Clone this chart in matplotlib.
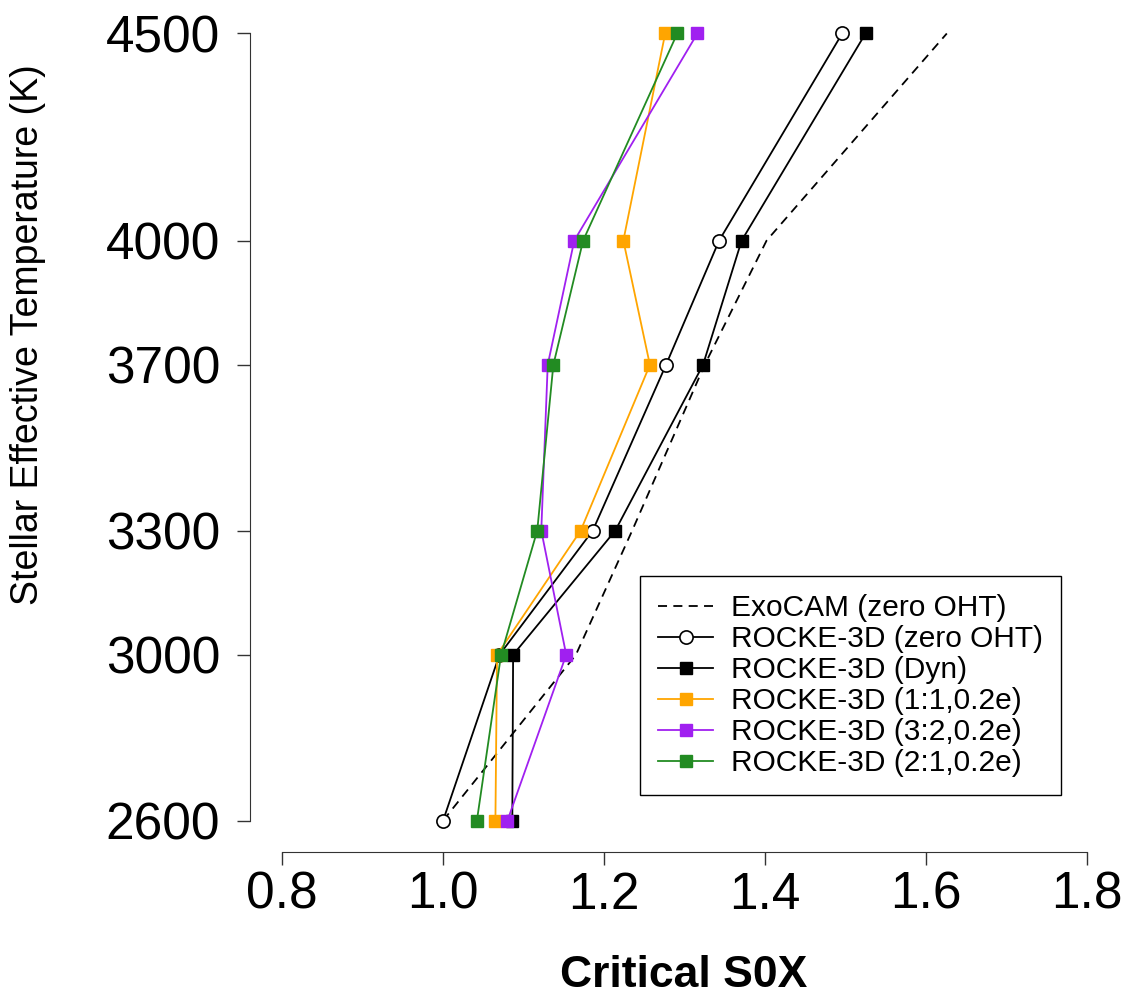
import matplotlib
matplotlib.use('Agg')
import matplotlib.pyplot as plt

plt.rcParams['font.family'] = ['Liberation Sans', 'DejaVu Sans']

# stellar effective temperature (K)
teff = [2600, 3000, 3300, 3700, 4000, 4500]

# critical S0X for each model
exocam = [1.000, 1.165, 1.235, 1.325, 1.402, 1.626]
rocke_zero = [1.000, 1.070, 1.186, 1.277, 1.343, 1.496]
rocke_dyn = [1.086, 1.087, 1.214, 1.323, 1.371, 1.525]
rocke_11 = [1.065, 1.067, 1.171, 1.257, 1.224, 1.276]
rocke_32 = [1.080, 1.153, 1.122, 1.130, 1.163, 1.316]
rocke_21 = [1.042, 1.072, 1.117, 1.137, 1.174, 1.291]

labels = ['ExoCAM (zero OHT)', 'ROCKE-3D (zero OHT)', 'ROCKE-3D (Dyn)',
          'ROCKE-3D (1:1,0.2e)', 'ROCKE-3D (3:2,0.2e)', 'ROCKE-3D (2:1,0.2e)']

xticks = [0.8, 1.0, 1.2, 1.4, 1.6, 1.8]

fig = plt.figure(figsize=(11.28, 9.96), dpi=100)
ax = fig.add_axes([250 / 1128, 1 - 852 / 996, (1119 - 250) / 1128, (852 - 2) / 996])

lw = 1.3
ms = 8.5
ax.plot(exocam, teff, color='black', ls=(0, (5, 3.5)), lw=lw, label=labels[0])
ax.plot(rocke_zero, teff, color='black', lw=lw, marker='o', ms=ms + 1,
        mfc='white', mec='black', mew=1.2, label=labels[1])
ax.plot(rocke_dyn, teff, color='black', lw=lw, marker='s', ms=ms, label=labels[2])
ax.plot(rocke_11, teff, color='#FFA500', lw=lw, marker='s', ms=ms, label=labels[3])
ax.plot(rocke_32, teff, color='#A020F0', lw=lw, marker='s', ms=ms, label=labels[4])
ax.plot(rocke_21, teff, color='#228B22', lw=lw, marker='s', ms=ms, label=labels[5])

ax.set_xlim(0.76, 1.84)
ax.set_ylim(2524, 4576)
ax.set_xticks(xticks)
ax.set_xticklabels(['%.1f' % v for v in xticks])
ax.set_yticks(teff)

for s in ['top', 'right']:
    ax.spines[s].set_visible(False)
ax.spines['left'].set_bounds(2600, 4500)
ax.spines['bottom'].set_bounds(0.8, 1.8)
ax.spines['left'].set_color('#333333')
ax.spines['bottom'].set_color('#333333')
ax.tick_params(axis='both', direction='out', length=9.5, width=1, color='#333333',
               labelsize=37)
ax.tick_params(axis='y', pad=12)
ax.tick_params(axis='x', pad=4)

fig.text(28 / 1128, 1 - 335 / 996, 'Stellar Effective Temperature (K)',
         rotation=90, ha='center', va='center', fontsize=27)
fig.text(684 / 1128, 1 - 975 / 996, 'Critical S0X', ha='center', va='center',
         fontsize=32, fontweight='bold')

leg = ax.legend(loc='lower left', bbox_to_anchor=(640 / 1128, 1 - 795 / 996),
                bbox_transform=fig.transFigure, borderaxespad=0, fontsize=21.5,
                handlelength=1.85, handletextpad=0.6, labelspacing=0.1,
                borderpad=0.6, fancybox=False, edgecolor='black', framealpha=1)
leg.get_frame().set_linewidth(1)

fig.savefig('out.png', dpi=100)
